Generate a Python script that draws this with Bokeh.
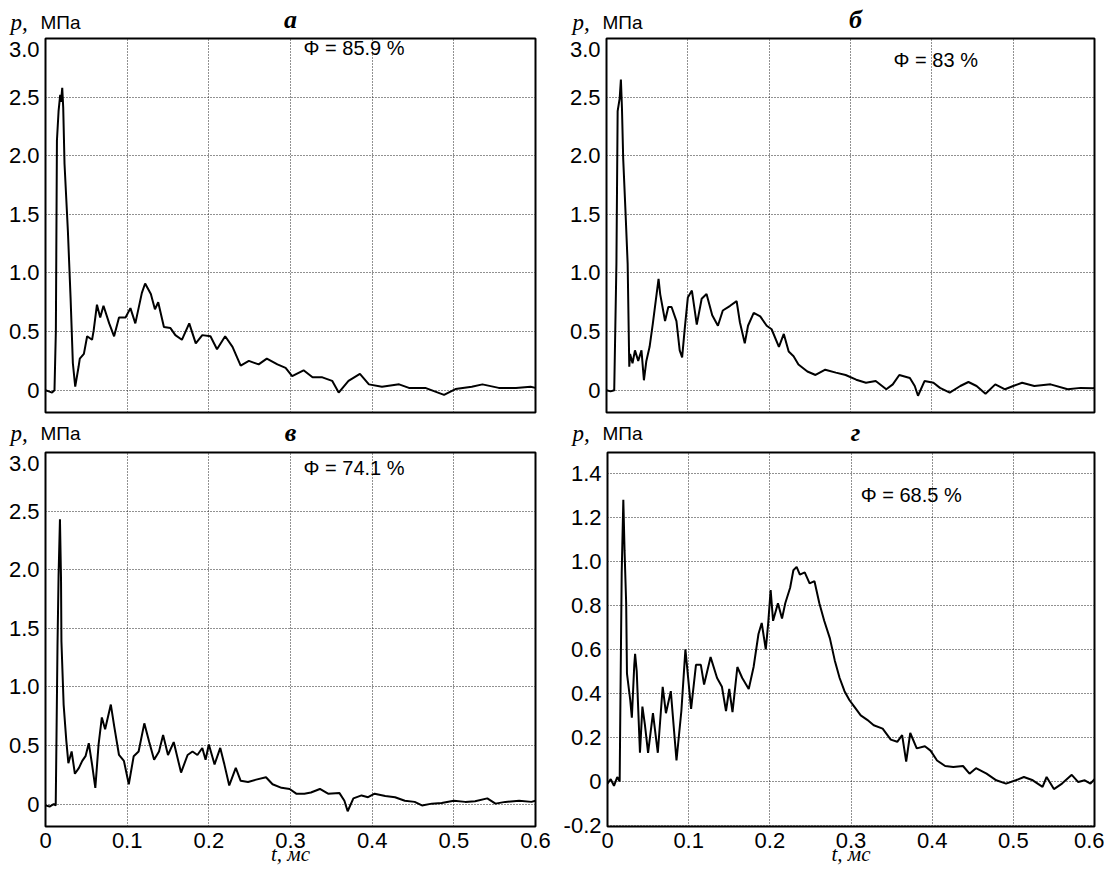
from bokeh.plotting import figure
from bokeh.models import Range1d, FixedTicker, CustomJSTickFormatter, Label
from bokeh.layouts import column, row
from bokeh.core.properties import value
from bokeh.embed import file_html
from bokeh.resources import INLINE

# ---------------- data (t in ms, p in MPa) ----------------
x_ticks = [0, 0.1, 0.2, 0.3, 0.4, 0.5, 0.6]
y_grid_big = [0, 0.5, 1.0, 1.5, 2.0, 2.5, 3.0]
# in the original the "3.0" label sits just inside the frame, below the top line
y_labels_big = [0, 0.5, 1.0, 1.5, 2.0, 2.5, 2.91]
y_ticks_small = [-0.2, 0, 0.2, 0.4, 0.6, 0.8, 1.0, 1.2, 1.4]
panel_letters = ["а", "б", "в", "г"]
phi_texts = ["Φ = 85.9 %", "Φ = 83 %", "Φ = 74.1 %", "Φ = 68.5 %"]

t_a = [0.000, 0.004, 0.008, 0.011, 0.0127, 0.014, 0.016, 0.018, 0.019, 0.0205,
       0.0217, 0.0233, 0.0274, 0.0307, 0.0335, 0.0364, 0.0405, 0.042, 0.047, 0.051,
       0.057, 0.059, 0.063, 0.067, 0.071, 0.078, 0.084, 0.090, 0.098, 0.104,
       0.110, 0.118, 0.122, 0.129, 0.134, 0.138, 0.145, 0.153, 0.159, 0.167,
       0.176, 0.184, 0.192, 0.202, 0.210, 0.220, 0.229, 0.239, 0.249, 0.261,
       0.271, 0.284, 0.294, 0.302, 0.316, 0.327, 0.339, 0.351, 0.359, 0.371,
       0.385, 0.396, 0.412, 0.433, 0.445, 0.465, 0.488, 0.502, 0.522, 0.535,
       0.555, 0.576, 0.594, 0.600]
p_a = [0.00, -0.01, -0.02, 0.00, 0.51, 2.13, 2.38, 2.52, 2.46, 2.58,
       2.41, 1.93, 1.36, 0.79, 0.23, 0.03, 0.20, 0.27, 0.31, 0.46,
       0.43, 0.51, 0.73, 0.62, 0.72, 0.57, 0.46, 0.62, 0.62, 0.70,
       0.57, 0.83, 0.91, 0.82, 0.69, 0.75, 0.54, 0.53, 0.47, 0.43,
       0.57, 0.40, 0.47, 0.46, 0.35, 0.46, 0.37, 0.21, 0.25, 0.22,
       0.27, 0.22, 0.19, 0.12, 0.17, 0.11, 0.11, 0.08, -0.02, 0.08,
       0.14, 0.05, 0.03, 0.05, 0.02, 0.02, -0.04, 0.01, 0.03, 0.05,
       0.02, 0.02, 0.03, 0.02]

t_b = [0.000, 0.005, 0.0095, 0.0122, 0.0137, 0.0162, 0.0177, 0.019, 0.0205, 0.0235,
       0.026, 0.028, 0.029, 0.032, 0.035, 0.039, 0.043, 0.046, 0.049, 0.053,
       0.057, 0.064, 0.066, 0.072, 0.076, 0.080, 0.086, 0.090, 0.093, 0.096,
       0.100, 0.105, 0.111, 0.117, 0.123, 0.130, 0.137, 0.143, 0.152, 0.160,
       0.164, 0.170, 0.174, 0.181, 0.189, 0.197, 0.203, 0.212, 0.218, 0.224,
       0.230, 0.236, 0.247, 0.257, 0.269, 0.282, 0.294, 0.307, 0.319, 0.331,
       0.344, 0.352, 0.360, 0.373, 0.379, 0.383, 0.391, 0.402, 0.410, 0.422,
       0.435, 0.445, 0.455, 0.466, 0.478, 0.490, 0.500, 0.511, 0.526, 0.546,
       0.567, 0.583, 0.598, 0.600]
p_b = [0.00, -0.01, 0.00, 1.08, 2.38, 2.49, 2.65, 2.41, 1.98, 1.50,
       1.08, 0.20, 0.31, 0.23, 0.34, 0.25, 0.34, 0.085, 0.25, 0.37,
       0.57, 0.95, 0.82, 0.59, 0.71, 0.71, 0.59, 0.34, 0.28, 0.51,
       0.79, 0.85, 0.56, 0.78, 0.82, 0.64, 0.55, 0.68, 0.72, 0.76,
       0.58, 0.40, 0.55, 0.66, 0.63, 0.55, 0.52, 0.37, 0.48, 0.33,
       0.29, 0.22, 0.16, 0.13, 0.175, 0.15, 0.13, 0.09, 0.064, 0.078,
       0.008, 0.05, 0.13, 0.105, 0.036, -0.047, 0.078, 0.064, 0.02, -0.02,
       0.036, 0.07, 0.036, -0.03, 0.05, 0.008, 0.036, 0.064, 0.036, 0.05,
       0.008, 0.02, 0.017, 0.02]

t_c = [0.000, 0.005, 0.010, 0.0125, 0.0135, 0.0147, 0.016, 0.0177, 0.019, 0.0195,
       0.0222, 0.0255, 0.028, 0.032, 0.036, 0.041, 0.045, 0.049, 0.053, 0.057,
       0.061, 0.065, 0.069, 0.073, 0.080, 0.084, 0.090, 0.096, 0.102, 0.108,
       0.114, 0.121, 0.127, 0.133, 0.139, 0.144, 0.150, 0.157, 0.166, 0.174,
       0.180, 0.186, 0.192, 0.196, 0.200, 0.207, 0.214, 0.219, 0.225, 0.233,
       0.239, 0.248, 0.258, 0.270, 0.278, 0.289, 0.299, 0.307, 0.317, 0.325,
       0.336, 0.346, 0.360, 0.366, 0.370, 0.377, 0.387, 0.395, 0.403, 0.416,
       0.428, 0.440, 0.452, 0.461, 0.473, 0.485, 0.500, 0.514, 0.526, 0.541,
       0.551, 0.563, 0.580, 0.595, 0.600]
p_c = [-0.01, -0.02, 0.00, -0.01, 0.60, 1.36, 1.95, 2.43, 1.92, 1.39,
       0.85, 0.54, 0.35, 0.45, 0.26, 0.31, 0.37, 0.41, 0.52, 0.34,
       0.14, 0.51, 0.74, 0.64, 0.85, 0.67, 0.42, 0.37, 0.17, 0.41,
       0.45, 0.69, 0.53, 0.38, 0.45, 0.59, 0.42, 0.53, 0.27, 0.42,
       0.45, 0.42, 0.48, 0.38, 0.51, 0.34, 0.48, 0.34, 0.16, 0.31,
       0.20, 0.19, 0.21, 0.23, 0.17, 0.14, 0.13, 0.09, 0.09, 0.10,
       0.13, 0.09, 0.095, 0.03, -0.06, 0.05, 0.075, 0.06, 0.09, 0.07,
       0.06, 0.03, 0.02, -0.01, 0.005, 0.01, 0.03, 0.02, 0.025, 0.05,
       0.005, 0.02, 0.03, 0.02, 0.03]

t_d = [0.000, 0.004, 0.008, 0.012, 0.015, 0.016, 0.0175, 0.0195, 0.021, 0.023,
       0.024, 0.028, 0.030, 0.033, 0.034, 0.036, 0.040, 0.043, 0.046, 0.050,
       0.056, 0.062, 0.068, 0.072, 0.078, 0.085, 0.091, 0.096, 0.103, 0.109,
       0.115, 0.119, 0.127, 0.135, 0.141, 0.146, 0.150, 0.154, 0.160, 0.166,
       0.174, 0.180, 0.186, 0.190, 0.195, 0.198, 0.201, 0.204, 0.210, 0.215,
       0.219, 0.225, 0.229, 0.233, 0.237, 0.243, 0.249, 0.255, 0.261, 0.267,
       0.274, 0.280, 0.286, 0.292, 0.298, 0.304, 0.312, 0.320, 0.328, 0.339,
       0.349, 0.357, 0.363, 0.368, 0.373, 0.381, 0.391, 0.398, 0.406, 0.416,
       0.426, 0.438, 0.446, 0.454, 0.467, 0.479, 0.491, 0.503, 0.513, 0.524,
       0.536, 0.541, 0.550, 0.560, 0.572, 0.580, 0.588, 0.595, 0.600]
p_d = [-0.01, 0.01, -0.02, 0.02, 0.00, 0.40, 0.95, 1.28, 1.05, 0.81,
       0.49, 0.37, 0.29, 0.53, 0.58, 0.50, 0.13, 0.34, 0.26, 0.13,
       0.31, 0.13, 0.43, 0.31, 0.41, 0.095, 0.32, 0.60, 0.33, 0.53,
       0.53, 0.44, 0.565, 0.47, 0.43, 0.32, 0.42, 0.315, 0.52, 0.47,
       0.42, 0.52, 0.67, 0.72, 0.60, 0.72, 0.87, 0.73, 0.81, 0.74,
       0.81, 0.88, 0.96, 0.975, 0.94, 0.95, 0.90, 0.91, 0.81, 0.73,
       0.65, 0.55, 0.47, 0.41, 0.37, 0.34, 0.30, 0.28, 0.255, 0.24,
       0.19, 0.18, 0.21, 0.09, 0.22, 0.15, 0.16, 0.14, 0.095, 0.07,
       0.065, 0.07, 0.035, 0.06, 0.035, 0.005, -0.01, 0.005, 0.02, 0.005,
       -0.025, 0.02, -0.035, -0.01, 0.03, -0.003, 0.005, -0.01, 0.01]

assert len(t_a) == len(p_a) and len(t_b) == len(p_b)
assert len(t_c) == len(p_c) and len(t_d) == len(p_d)

SANS = "Liberation Sans"
SERIF = "Liberation Serif"
FMT = ("if (Math.abs(tick) < 1e-9) return '0';"
       "if (tick > 2.9) return '3.0';"
       "return tick.toFixed(1);")
W = 1104


def make_panel(t, p, yr, ylabels, ygrid, w, h, bl, br, bt, bb, show_x):
    f = figure(width=w, height=h, output_backend="svg", toolbar_location=None,
               x_range=Range1d(0, 0.6), y_range=Range1d(*yr),
               min_border_left=bl, min_border_right=br,
               min_border_top=bt, min_border_bottom=bb,
               background_fill_color="white", border_fill_color="white")
    f.outline_line_color = "black"
    f.outline_line_width = 2
    f.yaxis.ticker = FixedTicker(ticks=ylabels)
    f.xaxis.ticker = FixedTicker(ticks=x_ticks)
    f.yaxis.formatter = CustomJSTickFormatter(code=FMT)
    f.xaxis.formatter = CustomJSTickFormatter(code=FMT)
    for ax in f.axis:
        ax.axis_line_color = None
        ax.major_tick_line_color = None
        ax.minor_tick_line_color = None
        ax.major_tick_out = 0
        ax.major_tick_in = 0
        ax.major_label_text_font = SANS
        ax.major_label_text_font_size = "22px"
        ax.major_label_text_color = "black"
        ax.major_label_standoff = 6
    f.xaxis.visible = show_x
    if show_x:
        f.xaxis.axis_label = "t, мс"
        f.xaxis.axis_label_text_font = SERIF
        f.xaxis.axis_label_text_font_style = "italic"
        f.xaxis.axis_label_text_font_size = "21px"
        f.xaxis.axis_label_text_color = "black"
        f.xaxis.axis_label_standoff = -9
    f.xgrid.ticker = FixedTicker(ticks=[0.1, 0.2, 0.3, 0.4, 0.5])
    f.ygrid.ticker = FixedTicker(ticks=ygrid)
    for g in (f.xgrid, f.ygrid):
        g.grid_line_color = "#222222"
        g.grid_line_dash = "1 2"
        g.grid_line_width = 1
    f.line(t, p, line_color="black", line_width=2)
    return f


def header(h, base_caption, base_letter, letters):
    f = figure(width=W, height=h, output_backend="svg", toolbar_location=None,
               x_range=Range1d(0, W), y_range=Range1d(0, h),
               x_axis_type=None, y_axis_type=None, min_border=0,
               outline_line_color=None, background_fill_color="white",
               border_fill_color="white")
    for x0 in (10, 572):
        f.text(x=[x0], y=[base_caption], text=["p,"], text_font=value(SERIF),
               text_font_size="23px", text_font_style="italic",
               text_baseline="alphabetic", text_color="black")
        f.text(x=[x0 + 30], y=[base_caption], text=["МПа"], text_font=value(SANS),
               text_font_size="19px", text_baseline="alphabetic", text_color="black")
    f.text(x=[290, 855], y=[base_letter, base_letter], text=letters,
           text_font=value(SERIF), text_font_size="26px", text_font_style="bold italic",
           text_align="center", text_baseline="alphabetic", text_color="black")
    return f


def add_label(f, x, y, text):
    f.add_layout(Label(x=x, y=y, text=text, text_font=SANS, text_font_size="20px",
                       text_align="left", text_baseline="middle", text_color="black"))


# header 1: canvas y 0-35
h1 = header(35, 13, 16, panel_letters[0:2])
# row 1: canvas y 35-414, frame 38-412
pa = make_panel(t_a, p_a, (-0.19, 3.0), y_labels_big, y_grid_big, 560, 379, 45, 25, 3, 2, False)
pb = make_panel(t_b, p_b, (-0.19, 3.0), y_labels_big, y_grid_big, 544, 379, 46, 10, 3, 2, False)
# header 2: canvas y 414-449
h2 = header(35, 16, 17, panel_letters[2:4])
# row 2: canvas y 449-871, frame 452-826
pc = make_panel(t_c, p_c, (-0.19, 3.0), y_labels_big, y_grid_big, 560, 422, 45, 25, 3, 45, True)
pd = make_panel(t_d, p_d, (-0.205, 1.495), y_ticks_small, y_ticks_small, 544, 422, 46, 10, 3, 45, True)

# porosity annotations
add_label(pa, 0.316, 2.92, phi_texts[0])
add_label(pb, 0.353, 2.82, phi_texts[1])
add_label(pc, 0.316, 2.87, phi_texts[2])
add_label(pd, 0.312, 1.30, phi_texts[3])

layout = column(h1, row(pa, pb), h2, row(pc, pd))

with open("out.html", "w") as fh:
    fh.write(file_html(layout, INLINE))
